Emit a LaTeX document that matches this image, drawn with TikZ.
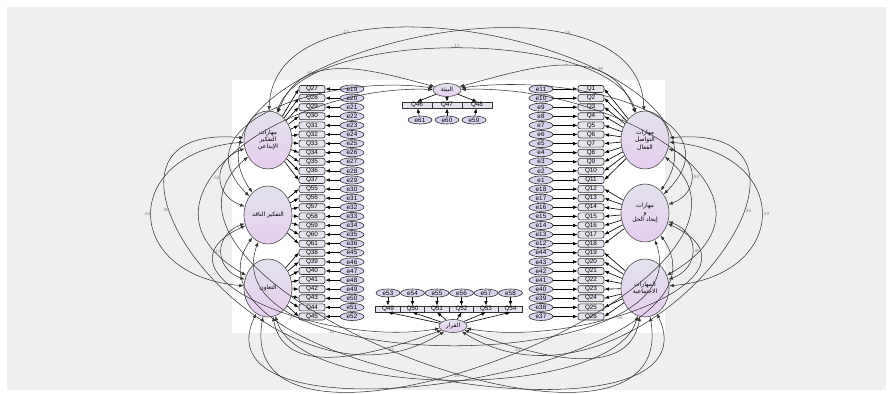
\documentclass[tikz,border=0pt]{standalone}
\usepackage{fontspec}
\setmainfont{Liberation Sans}
\newfontfamily\arabicfont[Script=Arabic]{DejaVu Sans}
\TeXXeTstate=1
\usetikzlibrary{arrows.meta,shapes.geometric}

\definecolor{panel}{HTML}{EFEFEF}
\definecolor{indfill}{HTML}{E4E4EC}
\definecolor{errfill}{HTML}{D8D6EE}
\definecolor{ftop}{HTML}{E2E2EC}
\definecolor{fbot}{HTML}{E6CEF0}

\newcommand{\rtl}[1]{\beginR #1\endR}

\tikzset{
  ind/.style={draw=black!80, fill=indfill, rounded corners=1.2pt, minimum width=0.52cm,
    minimum height=0.14cm, inner sep=0pt, line width=0.35pt, font=\fontsize{3.6}{4}\selectfont},
  strip/.style={ind, rounded corners=0pt, minimum width=0.49cm, minimum height=0.12cm},
  err/.style={ellipse, draw=black!80, fill=errfill, minimum width=0.48cm, minimum height=0.16cm,
    inner sep=0pt, line width=0.35pt, font=\fontsize{3.6}{4}\selectfont},
  factor/.style={ellipse, draw=black!70, top color=ftop, bottom color=fbot, minimum width=0.96cm,
    minimum height=1.16cm, inner sep=0pt, align=center, line width=0.35pt,
    font={\arabicfont\fontsize{3.4}{4.2}\selectfont}},
  smallfactor/.style={factor, minimum width=0.56cm, minimum height=0.26cm},
  load/.style={->, line width=0.35pt},
  cov/.style={<->, draw=black!80, line width=0.3pt},
  lbl/.style={font=\fontsize{2.6}{3}\selectfont, text=black!50, inner sep=0.6pt}
}

\begin{document}
\begin{tikzpicture}[x=0.02cm, y=-0.02cm, >={Latex[length=2.6pt,width=2pt]}]
\useasboundingbox (0,0) rectangle (893,394);
\fill[white] (0,0) rectangle (893,394);
\fill[panel] (7,7) rectangle (886,390);
\fill[white] (232,80) rectangle (665,333);

% latent variables
\node[factor] (L1) at (268,140) {\rtl{مهارات}\\\rtl{التفكير}\\\rtl{الإبداعي}};
\node[factor] (L2) at (268,215) {\rtl{التفكير الناقد}};
\node[factor] (L3) at (268,288) {\rtl{التعاون}};
\node[factor] (R1) at (645,140) {\rtl{مهارات}\\\rtl{التواصل}\\\rtl{الفعال}};
\node[factor] (R2) at (645,213) {\rtl{مهارات}\\\rtl{و}\\\rtl{إيجاد الحل}};
\node[factor] (R3) at (645,288) {\rtl{المهارات}\\\rtl{الاجتماعية}};
\node[smallfactor] (T) at (447,90) {\rtl{البيئة}};
\node[smallfactor] (B) at (453,326) {\rtl{القرار}};

% left column
\foreach \q/\e [count=\i from 0] in {27/19,28/20,29/21,30/22,31/23,32/24,33/25,34/26,35/27,36/28,37/29,
    55/30,56/31,57/32,58/33,59/34,60/35,61/36,38/45,39/46,40/47,41/48,42/49,43/50,44/51,45/52} {
  \node[ind] (q\q) at (312,{89+9.1*\i}) {Q\q};
  \node[err] (e\e) at (352,{89+9.1*\i}) {e\e};
  \draw[load] (e\e) -- (q\q);
}
% right column
\foreach \q/\e [count=\i from 0] in {1/11,2/10,3/9,4/8,5/7,6/6,7/5,8/4,9/3,10/2,11/1,
    12/18,13/17,14/16,15/15,16/14,17/13,18/12,19/44,20/43,21/42,22/41,23/40,24/39,25/38,26/37} {
  \node[ind] (q\q) at (591,{89+9.1*\i}) {Q\q};
  \node[err] (e\e) at (541,{89+9.1*\i}) {e\e};
  \draw[load] (e\e) -- (q\q);
}
\foreach \q in {27,...,37} \draw[load] (L1) -- (q\q.west);
\foreach \q in {55,...,61} \draw[load] (L2) -- (q\q.west);
\foreach \q in {38,...,45} \draw[load] (L3) -- (q\q.west);
\foreach \q in {1,...,11} \draw[load] (R1) -- (q\q.east);
\foreach \q in {12,...,18} \draw[load] (R2) -- (q\q.east);
\foreach \q in {19,...,26} \draw[load] (R3) -- (q\q.east);

% top indicators
\foreach \q/\e/\x in {46/61/417,47/60/447,48/59/477} {
  \node[strip, minimum width=0.6cm] (q\q) at (\x,105) {Q\q};
  \node[err] (e\e) at ({\x+(447-\x)*0.1},120) {e\e};
  \draw[load] (e\e) -- (q\q);
  \draw[load] (T) -- (q\q.north);
}
% bottom indicators
\foreach \q/\e [count=\i from 0] in {49/53,50/54,51/55,52/56,53/57,54/58} {
  \node[strip] (q\q) at ({388+24.5*\i},309) {Q\q};
  \node[err] (e\e) at ({388+24.5*\i},293) {e\e};
  \draw[load] (e\e) -- (q\q);
  \draw[load] (B) -- (q\q.south);
}

% covariances
\draw[cov] (L1) to[out=72,in=108,looseness=0.64] node[lbl,above] {.17} (R1);
\draw[cov] (L1) to[out=70,in=165,looseness=1.1] node[lbl,above,pos=0.3] {.41} (T);
\draw[cov] (R1) to[out=110,in=15,looseness=1.1] node[lbl,above,pos=0.3] {.38} (T);
\draw[cov] (L2) to[out=135,in=172,looseness=1.25] (T);
\draw[cov] (R2) to[out=45,in=8,looseness=1.25] (T);
\draw[cov] (L3) to[out=150,in=178,looseness=1.45] (T);
\draw[cov] (R3) to[out=30,in=2,looseness=1.45] (T);
\draw[cov] (L1) to[out=88,in=55,looseness=1.05] node[lbl,above,pos=0.25] {.12} (R2);
\draw[cov] (R1) to[out=92,in=125,looseness=1.05] node[lbl,above,pos=0.25] {.15} (L2);
\draw[cov] (L1) to[out=200,in=160,looseness=1.5] node[lbl,left] {.52} (L2);
\draw[cov] (L2) to[out=200,in=160,looseness=1.5] node[lbl,left] {.47} (L3);
\draw[cov] (L1) to[out=185,in=175,looseness=2.2] node[lbl,left] {.44} (L3);
\draw[cov] (R1) to[out=-20,in=20,looseness=1.5] node[lbl,right] {.50} (R2);
\draw[cov] (R2) to[out=-20,in=20,looseness=1.5] node[lbl,right] {.46} (R3);
\draw[cov] (R1) to[out=-5,in=5,looseness=2.2] node[lbl,right] {.43} (R3);
\draw[cov] (L1) to[out=175,in=212,looseness=1.85] node[lbl,left,pos=0.35] {.36} (B);
\draw[cov] (R1) to[out=5,in=-32,looseness=1.85] node[lbl,right,pos=0.35] {.35} (B);
\draw[cov] (L3) to[out=-75,in=-105,looseness=0.62] node[lbl,above] {.29} (R3);
\draw[cov] (L3) to[out=-80,in=200,looseness=1] node[lbl,below,pos=0.75] {.33} (B);
\draw[cov] (R3) to[out=-100,in=-20,looseness=1] node[lbl,below,pos=0.75] {.31} (B);
\draw[cov] (L2) to[out=205,in=190,looseness=1.35] node[lbl,below,pos=0.6] {.27} (B);
\draw[cov] (R2) to[out=-25,in=-10,looseness=1.35] node[lbl,below,pos=0.6] {.26} (B);
\draw[cov] (L2) to[out=235,in=-65,looseness=1] (R3);
\draw[cov] (R2) to[out=-55,in=245,looseness=1] (L3);
\draw[cov] (L1) to[out=220,in=-80,looseness=1.15] (R3);
\draw[cov] (R1) to[out=-40,in=260,looseness=1.15] (L3);
\draw[cov] (L2) to[out=250,in=-70,looseness=0.95] node[lbl,below,pos=0.3] {.18} (R2);
\end{tikzpicture}
\end{document}
